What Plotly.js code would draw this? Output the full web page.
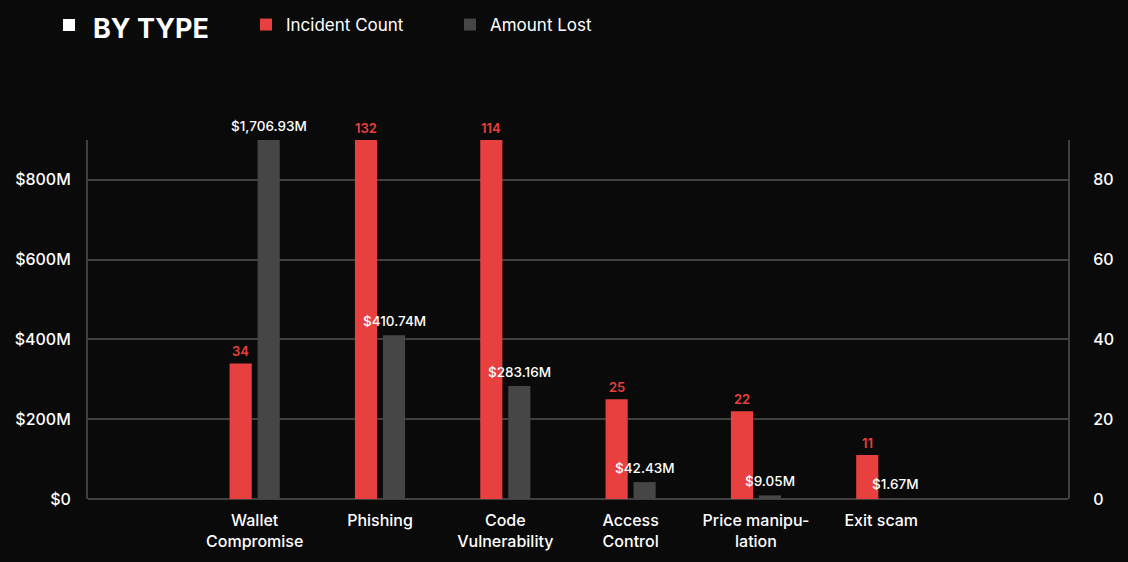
<!DOCTYPE html>
<html>
<head>
<meta charset="utf-8">
<script src="https://cdn.plot.ly/plotly-3.0.1.min.js"></script>
<style>
  html, body { margin: 0; padding: 0; background: #0a0a0a; }
  #chart { width: 1128px; height: 562px; }
</style>
</head>
<body>
<div id="chart"></div>
<script>
// ---- data ----
const categories = ["Wallet<br>Compromise", "Phishing", "Code<br>Vulnerability", "Access<br>Control", "Price manipu-<br>lation", "Exit scam"];
const incidentCount = [34, 132, 114, 25, 22, 11];
const amountLostM = [1706.93, 410.74, 283.16, 42.43, 9.05, 1.67];
const leftTickVals = [0, 200, 400, 600, 800];
const leftTickText = ["$0", "$200M", "$400M", "$600M", "$800M"];
const rightTickVals = [0, 20, 40, 60, 80];
const rightTickText = ["0", "20", "40", "60", "80"];

// ---- style ----
const RED = "#e8403f";
const GRAY = "#464646";
const GRID = "#404040";
const FONT = "Inter, 'Noto Sans', sans-serif";
const LEFT_MAX = 900;
const RIGHT_MAX = 90;
const BAR_W = 0.1766;
const RED_OFF = -0.2;
const GRAY_OFF = 0.0235;

const traces = [
  {
    type: "bar", name: "Incident Count", x: categories, y: incidentCount,
    yaxis: "y2", marker: { color: RED }, width: BAR_W, offset: RED_OFF,
    hoverinfo: "x+y"
  },
  {
    type: "bar", name: "Amount Lost", x: categories, y: amountLostM,
    yaxis: "y", marker: { color: GRAY }, width: BAR_W, offset: GRAY_OFF,
    hoverinfo: "x+y"
  }
];

const annotations = [];
incidentCount.forEach((v, i) => {
  annotations.push({
    x: i + RED_OFF + BAR_W / 2, y: Math.min(v, RIGHT_MAX), xref: "x", yref: "y2",
    text: String(v), showarrow: false, yanchor: "bottom", yshift: 2,
    font: { family: FONT, size: 13, color: RED, weight: 600 }
  });
});
amountLostM.forEach((v, i) => {
  const txt = "$" + v.toLocaleString("en-US", { minimumFractionDigits: 2, maximumFractionDigits: 2 }) + "M";
  annotations.push({
    x: i + GRAY_OFF + BAR_W / 2, y: Math.min(v, LEFT_MAX), xref: "x", yref: "y",
    text: txt, showarrow: false, yanchor: "bottom", yshift: 4,
    font: { family: FONT, size: 13.5, color: "#ffffff", weight: 500 }
  });
});

const layout = {
  width: 1128, height: 562,
  paper_bgcolor: "#0a0a0a", plot_bgcolor: "#0a0a0a",
  margin: { l: 88, r: 60, t: 140, b: 63 },
  font: { family: FONT, color: "#ffffff" },
  title: {
    text: "BY TYPE",
    xref: "container", yref: "container", x: 93 / 1128, xanchor: "left",
    y: 1 - 29 / 562, yanchor: "middle",
    font: { family: FONT, size: 27, color: "#ffffff", weight: 700 }
  },
  shapes: [{
    type: "rect", xref: "paper", yref: "paper",
    x0: (63 - 88) / 980, x1: (75 - 88) / 980,
    y0: (499 - 31) / 359, y1: (499 - 19) / 359,
    fillcolor: "#ffffff", line: { width: 0 }
  }],
  showlegend: true,
  legend: {
    orientation: "h", xref: "container", yref: "container",
    x: 246 / 1128, xanchor: "left", y: 1 - 25 / 562, yanchor: "middle",
    font: { family: FONT, size: 17, color: "#ffffff" },
    bgcolor: "rgba(0,0,0,0)", entrywidth: 159, entrywidthmode: "pixels",
    traceorder: "normal"
  },
  xaxis: {
    type: "category", range: [-1.33, 6.49], showgrid: false, zeroline: false,
    showline: false, ticks: "", ticklabelstandoff: 10,
    tickfont: { family: FONT, size: 16, color: "#ffffff", weight: 500 },
    fixedrange: true
  },
  yaxis: {
    range: [0, LEFT_MAX], tickvals: leftTickVals, ticktext: leftTickText,
    showgrid: true, gridcolor: GRID, gridwidth: 2, zeroline: true, zerolinecolor: GRID, zerolinewidth: 2,
    showline: true, linecolor: GRID, linewidth: 2, ticks: "", ticklabelstandoff: 12,
    tickfont: { family: FONT, size: 16, color: "#ffffff", weight: 500 },
    fixedrange: true
  },
  yaxis2: {
    range: [0, RIGHT_MAX], tickvals: rightTickVals, ticktext: rightTickText,
    overlaying: "y", side: "right", showgrid: false, zeroline: false,
    showline: true, linecolor: GRID, linewidth: 2, ticks: "", ticklabelstandoff: 20,
    tickfont: { family: FONT, size: 16, color: "#ffffff", weight: 500 },
    fixedrange: true
  },
  annotations: annotations,
  bargap: 0.55
};

Plotly.newPlot("chart", traces, layout, { displayModeBar: false, staticPlot: true });
</script>
</body>
</html>
